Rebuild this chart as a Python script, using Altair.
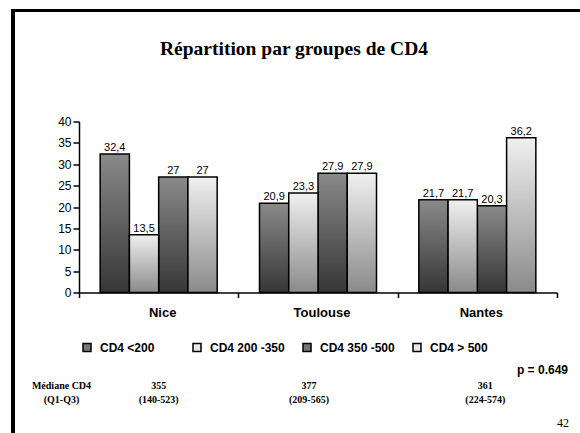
import altair as alt
import pandas as pd

# ---- data -------------------------------------------------------------
cities = ["Nice", "Toulouse", "Nantes"]
groups = ["CD4 <200", "CD4 200 -350", "CD4 350 -500", "CD4 > 500"]
pct_nice = [32.4, 13.5, 27, 27]
pct_toulouse = [20.9, 23.3, 27.9, 27.9]
pct_nantes = [21.7, 21.7, 20.3, 36.2]
median_cd4 = ["355", "377", "361"]
iqr_cd4 = ["(140-523)", "(209-565)", "(224-574)"]
title_text = "Répartition par groupes de CD4"
median_caption = ["Médiane CD4", "(Q1-Q3)"]
p_value = "p = 0.649"
page_number = "42"

# ---- tables built from the lists --------------------------------------
rows = []
for city, values in zip(cities, [pct_nice, pct_toulouse, pct_nantes]):
    for i, (grp, v) in enumerate(zip(groups, values)):
        rows.append({"city": city, "group": grp, "pct": v,
                     "tone": "dark" if i % 2 == 0 else "light"})
bars_df = pd.DataFrame(rows)
med_df = pd.DataFrame({"city": cities, "median": median_cd4, "iqr": iqr_cd4})
one = pd.DataFrame({"k": [0]})

SANS = "Liberation Sans"
SERIF = "Liberation Serif"

x_enc = alt.X(
    "city:N", sort=cities,
    scale=alt.Scale(domain=cities, paddingInner=0, paddingOuter=0),
    axis=alt.Axis(title=None, labelAngle=0, tickBand="extent", grid=False,
                  domainColor="black", domainWidth=1.5, tickColor="black",
                  tickWidth=1.5, tickSize=5, labelPadding=9, labelOffset=3.5,
                  labelFont=SANS, labelFontSize=13, labelFontWeight="bold",
                  labelColor="black"),
)
xoff_enc = alt.XOffset(
    "group:N", sort=groups,
    scale=alt.Scale(domain=groups, paddingInner=0, paddingOuter=0.723),
)
y_enc = alt.Y(
    "pct:Q",
    scale=alt.Scale(domain=[0, 40], nice=False, zero=True),
    axis=alt.Axis(title=None, values=list(range(0, 41, 5)), grid=False,
                  domainColor="black", domainWidth=1.5, tickColor="black",
                  tickWidth=1.5, tickSize=6, labelPadding=2, labelFont=SANS,
                  labelFontSize=12, labelColor="black"),
)

base = alt.Chart(bars_df).encode(x=x_enc, xOffset=xoff_enc, y=y_enc)


def shade(top, bottom):
    return alt.Gradient(
        gradient="linear", x1=0, x2=0, y1=0, y2=1,
        stops=[alt.GradientStop(color=top, offset=0),
               alt.GradientStop(color=bottom, offset=1)],
    )


dark_bars = base.transform_filter(alt.datum.tone == "dark").mark_bar(
    fill=shade("#8a8a8a", "#363636"), stroke="black", strokeWidth=1.5
)
light_bars = base.transform_filter(alt.datum.tone == "light").mark_bar(
    fill=shade("#f0f0f0", "#8a8a8a"), stroke="black", strokeWidth=1.5
)

# value labels with a decimal comma
value_labels = base.transform_calculate(
    label="replace(toString(datum.pct), '.', ',')"
).mark_text(font=SANS, fontSize=11, baseline="alphabetic", dy=-3,
            color="black").encode(text="label:N")

# invisible layer carrying the legend
legend_layer = base.mark_square(opacity=0).encode(
    color=alt.Color(
        "group:N", sort=groups,
        scale=alt.Scale(domain=groups,
                        range=["#777777", "#e8e8e8", "#777777", "#e8e8e8"]),
        legend=alt.Legend(
            title=None, orient="none", legendX=2, legendY=220,
            direction="horizontal", columns=4, gridAlign="all",
            columnPadding=15, padding=0, symbolType="square", symbolSize=64,
            symbolOpacity=1, symbolStrokeColor="black", symbolStrokeWidth=1.5,
            labelFont=SANS, labelFontSize=12, labelFontWeight="bold",
            labelColor="black", labelOffset=7,
        ),
    )
)

# median / IQR row under each city
nudges = {"Nice": 0, "Toulouse": -9, "Nantes": 8}
median_layers = []
for city in cities:
    sub = alt.Chart(med_df).transform_filter(alt.datum.city == city)
    for field, ypos in [("median", 264.5), ("iqr", 278.5)]:
        median_layers.append(
            sub.mark_text(font=SERIF, fontSize=10, fontWeight="bold",
                          color="black", baseline="middle",
                          dx=nudges[city]).encode(
                x=alt.X("city:N", sort=cities), y=alt.value(ypos),
                text=f"{field}:N")
        )

caption_layers = [
    alt.Chart(one).mark_text(font=SERIF, fontSize=10, fontWeight="bold",
                             color="black", baseline="middle").encode(
        x=alt.value(-17.5), y=alt.value(ypos), text=alt.value(txt))
    for txt, ypos in zip(median_caption, [264.5, 278.5])
]

title_layer = alt.Chart(one).mark_text(
    font=SERIF, fontSize=19.5, fontWeight="bold", color="black",
    baseline="alphabetic", align="center"
).encode(x=alt.value(215), y=alt.value(-67), text=alt.value(title_text))

p_layer = alt.Chart(one).mark_text(
    font=SANS, fontSize=12, fontWeight="bold", color="black",
    baseline="middle", align="right"
).encode(x=alt.value(489), y=alt.value(248.5), text=alt.value(p_value))

page_layer = alt.Chart(one).mark_text(
    font=SERIF, fontSize=12, color="black", baseline="middle", align="center"
).encode(x=alt.value(484), y=alt.value(301), text=alt.value(page_number))

# slide frame (left and top edges)
frame_left = alt.Chart(one).mark_rule(color="black", strokeWidth=4).encode(
    x=alt.value(-66), y=alt.value(-112.5), y2=alt.value(312))
frame_top = alt.Chart(one).mark_rule(color="black", strokeWidth=3).encode(
    x=alt.value(-68), x2=alt.value(502), y=alt.value(-111))

chart = alt.layer(
    frame_left, frame_top, title_layer, dark_bars, light_bars, value_labels,
    legend_layer, *median_layers, *caption_layers, p_layer, page_layer,
).properties(
    width=478, height=171,
    autosize=alt.AutoSizeParams(type="none"),
    padding={"left": 79, "top": 121.5, "right": 23, "bottom": 140},
    background="white",
).configure_view(stroke=None)

chart.save("out.html", embed_options={"renderer": "svg", "actions": False})
